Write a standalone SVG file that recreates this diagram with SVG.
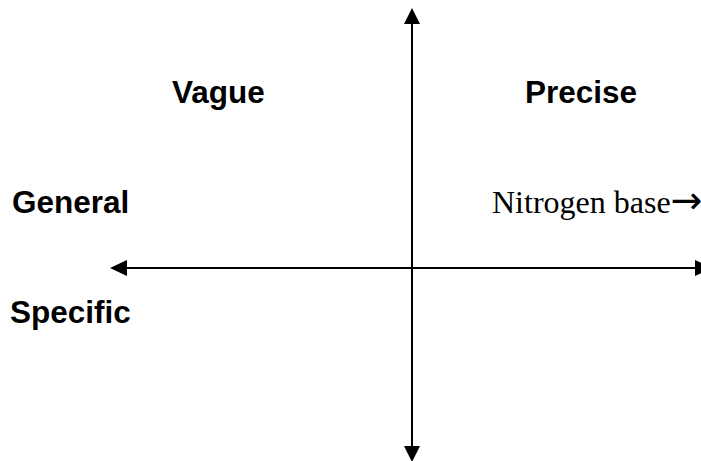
<svg xmlns="http://www.w3.org/2000/svg" width="701" height="461" viewBox="0 0 701 461">
<style>
.lbl{font-family:"Liberation Sans",Arial,sans-serif;font-weight:bold;font-size:31.5px;fill:#000}
.ser{font-family:"Liberation Serif","Times New Roman",serif;font-size:32px;fill:#000}
.arr{font-family:"DejaVu Sans",sans-serif;font-size:38px}
.ax{stroke:#000;stroke-width:2;fill:none}
.hd{fill:#000}
</style>
<rect width="701" height="461" fill="#fff"/>
<g id="connectors">
<line class="ax" x1="412" y1="20" x2="412" y2="450"/>
<polygon class="hd" points="412,8 404,24 420,24"/>
<polygon class="hd" points="412,462 404,446 420,446"/>
<line class="ax" x1="122" y1="268" x2="700" y2="268"/>
<polygon class="hd" points="110,268 127,260 127,276"/>
<polygon class="hd" points="712,268 695,260 695,276"/>
</g>
<g id="vague"><text class="lbl" x="172" y="102.5">Vague</text></g>
<g id="precise"><text class="lbl" x="525" y="102.5">Precise</text></g>
<g id="general"><text class="lbl" x="12" y="213">General</text></g>
<g id="specific"><text class="lbl" x="10" y="323">Specific</text></g>
<g id="nitrogen"><text class="ser" x="492" y="213">Nitrogen base<tspan class="arr">→</tspan></text></g>
</svg>
